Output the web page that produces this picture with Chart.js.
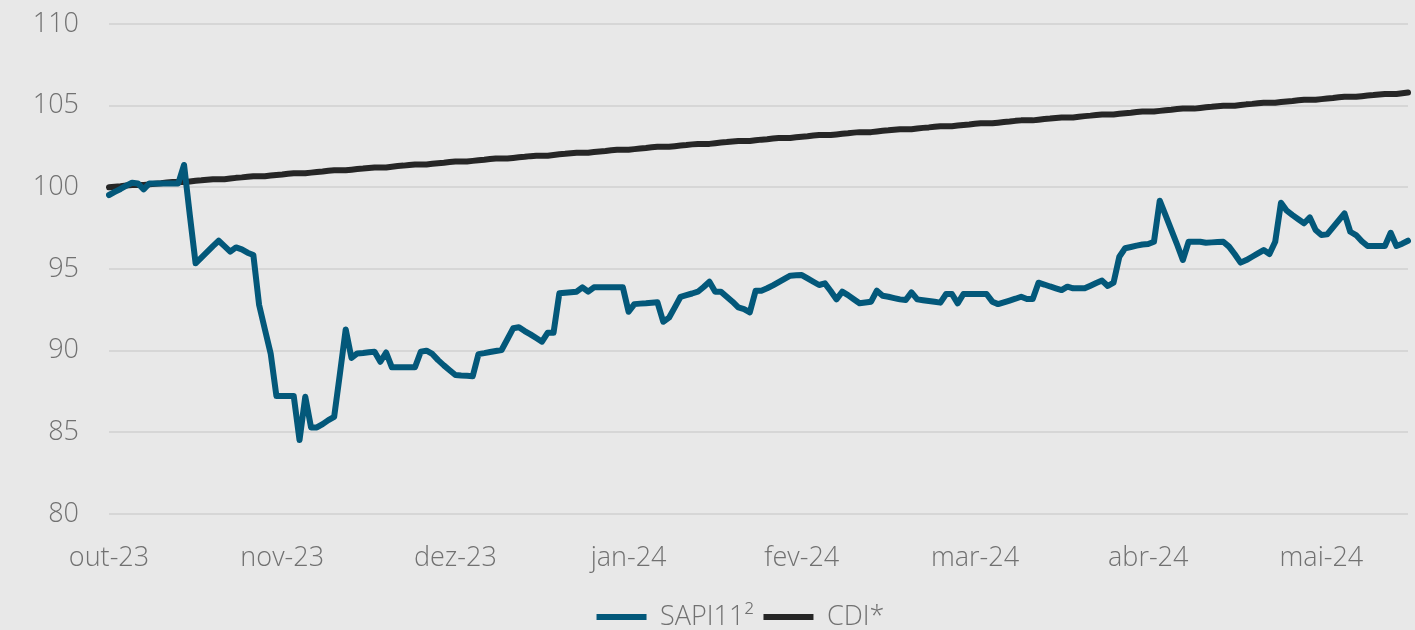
<!DOCTYPE html>
<html>
<head>
<meta charset="utf-8">
<script src="https://cdn.jsdelivr.net/npm/chart.js@4/dist/chart.umd.min.js"></script>
<style>
  html, body { margin: 0; padding: 0; background: #e8e8e8; }
  #wrap { width: 1415px; height: 630px; position: relative; }
</style>
</head>
<body>
<div id="wrap"><canvas id="c" width="1415" height="630"></canvas></div>
<script>
// Tick labels shown every 30 points along the daily axis
const monthLabels = ['out-23', 'nov-23', 'dez-23', 'jan-24', 'fev-24', 'mar-24', 'abr-24', 'mai-24'];
const labelEvery = 30;

const sapi11 = [
  99.53, 99.72, 99.9, 100.1, 100.28, 100.24, 99.88, 100.24, 100.24, 100.24,
  100.24, 100.24, 100.24, 101.37, 98.3, 95.35, 95.7, 96.05, 96.4, 96.73,
  96.4, 96.06, 96.32, 96.2, 96.0, 95.86, 92.8, 91.3, 89.83, 87.22,
  87.22, 87.22, 87.22, 84.53, 87.18, 85.3, 85.3, 85.5, 85.75, 85.95,
  88.6, 91.3, 89.55, 89.83, 89.86, 89.9, 89.93, 89.32, 89.89, 88.98,
  88.98, 88.98, 88.98, 88.98, 89.93, 90.0, 89.8, 89.42, 89.1, 88.8,
  88.51, 88.48, 88.46, 88.44, 89.79, 89.85, 89.92, 89.98, 90.04, 90.7,
  91.37, 91.43, 91.2, 91.0, 90.78, 90.55, 91.1, 91.1, 93.51, 93.55,
  93.58, 93.61, 93.88, 93.61, 93.88, 93.88, 93.88, 93.88, 93.88, 93.88,
  92.38, 92.85, 92.88, 92.9, 92.93, 92.96, 91.77, 92.02, 92.65, 93.3,
  93.4, 93.5, 93.61, 93.9, 94.22, 93.61, 93.61, 93.3, 93.0, 92.65,
  92.55, 92.35, 93.67, 93.67, 93.82, 94.0, 94.2, 94.4, 94.59, 94.61,
  94.63, 94.43, 94.22, 94.02, 94.12, 93.65, 93.14, 93.61, 93.4, 93.15,
  92.9, 92.95, 93.0, 93.67, 93.36, 93.3, 93.22, 93.14, 93.1, 93.57,
  93.14, 93.09, 93.04, 92.99, 92.94, 93.47, 93.47, 92.9, 93.47, 93.47,
  93.47, 93.47, 93.47, 93.0, 92.85, 92.96, 93.07, 93.18, 93.3, 93.16,
  93.16, 94.16, 94.05, 93.93, 93.82, 93.71, 93.92, 93.82, 93.82, 93.82,
  93.98, 94.14, 94.29, 93.96, 94.16, 95.75, 96.27, 96.35, 96.43, 96.5,
  96.53, 96.67, 99.18, 98.3, 97.4, 96.5, 95.55, 96.67, 96.67, 96.67,
  96.61, 96.63, 96.65, 96.67, 96.37, 95.9, 95.39, 95.55, 95.75, 95.95,
  96.16, 95.92, 96.67, 99.06, 98.57, 98.3, 98.05, 97.8, 98.16, 97.39,
  97.08, 97.12, 97.55, 97.98, 98.41, 97.28, 97.08, 96.7, 96.41, 96.41,
  96.41, 96.41, 97.22, 96.41, 96.55, 96.73
];

const cdi = [
  100.00, 100.04, 100.07, 100.11, 100.14, 100.14, 100.14,
  100.18, 100.22, 100.25, 100.29, 100.32, 100.32, 100.32,
  100.36, 100.40, 100.43, 100.47, 100.50, 100.50, 100.50,
  100.54, 100.58, 100.61, 100.65, 100.68, 100.68, 100.68,
  100.72, 100.76, 100.79, 100.83, 100.86, 100.86, 100.86,
  100.90, 100.94, 100.97, 101.01, 101.04, 101.04, 101.04,
  101.08, 101.12, 101.15, 101.19, 101.22, 101.22, 101.22,
  101.26, 101.30, 101.33, 101.37, 101.40, 101.40, 101.40,
  101.44, 101.48, 101.51, 101.55, 101.58, 101.58, 101.58,
  101.62, 101.66, 101.69, 101.73, 101.76, 101.76, 101.76,
  101.80, 101.84, 101.87, 101.91, 101.94, 101.94, 101.94,
  101.98, 102.02, 102.05, 102.09, 102.12, 102.12, 102.12,
  102.16, 102.20, 102.23, 102.27, 102.30, 102.30, 102.30,
  102.34, 102.38, 102.41, 102.45, 102.48, 102.48, 102.48,
  102.52, 102.56, 102.59, 102.63, 102.66, 102.66, 102.66,
  102.70, 102.74, 102.77, 102.81, 102.84, 102.84, 102.84,
  102.88, 102.92, 102.95, 102.99, 103.02, 103.02, 103.02,
  103.06, 103.10, 103.13, 103.17, 103.20, 103.20, 103.20,
  103.24, 103.28, 103.31, 103.35, 103.38, 103.38, 103.38,
  103.42, 103.46, 103.49, 103.53, 103.56, 103.56, 103.56,
  103.60, 103.64, 103.67, 103.71, 103.74, 103.74, 103.74,
  103.78, 103.82, 103.85, 103.89, 103.92, 103.92, 103.92,
  103.96, 104.00, 104.03, 104.07, 104.10, 104.10, 104.10,
  104.14, 104.18, 104.21, 104.25, 104.28, 104.28, 104.28,
  104.32, 104.36, 104.39, 104.43, 104.46, 104.46, 104.46,
  104.50, 104.54, 104.57, 104.61, 104.64, 104.64, 104.64,
  104.68, 104.72, 104.75, 104.79, 104.82, 104.82, 104.82,
  104.86, 104.90, 104.93, 104.97, 105.00, 105.00, 105.00,
  105.04, 105.08, 105.11, 105.15, 105.18, 105.18, 105.18,
  105.22, 105.26, 105.29, 105.33, 105.36, 105.36, 105.36,
  105.40, 105.44, 105.47, 105.51, 105.54, 105.54, 105.54,
  105.58, 105.62, 105.65, 105.69, 105.72, 105.72, 105.72,
  105.76, 105.80
];

const yMin = 80, yMax = 110, yStep = 5;
const seriesNames = ['SAPI11\u00B2', 'CDI*'];
const seriesColors = ['#03587a', '#262626'];

const categories = sapi11.map((_, i) => i);

const FONT = "'Open Sans', 'Noto Sans', sans-serif";
const TEXT = '#717171';

// nudge the legend so it sits where the original does (slightly left of plot centre)
const legendShift = {
  id: 'legendShift',
  afterLayout(chart) {
    const lg = chart.legend;
    if (lg) { lg.left -= 18; lg.right -= 18; }
  }
};

new Chart(document.getElementById('c'), {
  type: 'line',
  data: {
    labels: categories,
    datasets: [
      { label: seriesNames[0], data: sapi11, borderColor: seriesColors[0], backgroundColor: seriesColors[0],
        borderWidth: 6, borderCapStyle: 'round', borderJoinStyle: 'round', pointRadius: 0, tension: 0 },
      { label: seriesNames[1], data: cdi, borderColor: seriesColors[1], backgroundColor: seriesColors[1],
        borderWidth: 6, borderCapStyle: 'round', borderJoinStyle: 'round', pointRadius: 0, tension: 0 }
    ]
  },
  plugins: [legendShift],
  options: {
    responsive: false,
    animation: false,
    layout: { padding: { top: 24, right: 7, bottom: 0, left: 0 } },
    plugins: {
      tooltip: { enabled: false },
      legend: {
        position: 'bottom',
        fullSize: false,
        maxHeight: 36.5,
        labels: {
          usePointStyle: true,
          pointStyle: 'line',
          pointStyleWidth: 50,
          padding: 10,
          color: TEXT,
          font: { family: FONT, size: 27, weight: '300' }
        }
      }
    },
    scales: {
      x: {
        type: 'category',
        grid: { display: false, drawTicks: false },
        border: { display: false },
        ticks: {
          autoSkip: false, maxRotation: 0, minRotation: 0, padding: 28,
          color: TEXT, font: { family: FONT, size: 27, weight: '300' },
          callback: (v, i) => (i % labelEvery === 0 ? monthLabels[i / labelEvery] : '')
        },
        afterFit: (s) => { s.height = 79.5; s.paddingLeft = 0; s.paddingRight = 0; }
      },
      y: {
        min: yMin, max: yMax,
        grid: { color: '#d6d6d6', lineWidth: 2, drawTicks: false },
        border: { display: false },
        ticks: {
          stepSize: yStep, padding: 30,
          color: TEXT, font: { family: FONT, size: 27, weight: '300' }
        },
        afterFit: (s) => { s.width = 109; s.paddingTop = 0; s.paddingBottom = 0; }
      }
    }
  }
});
</script>
</body>
</html>
